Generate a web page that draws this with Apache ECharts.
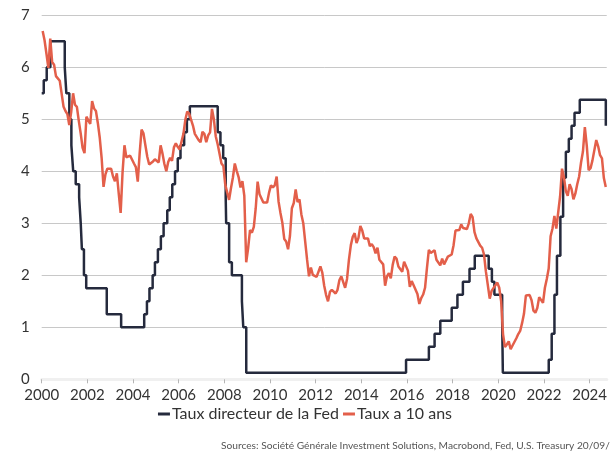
<!DOCTYPE html>
<html>
<head>
<meta charset="utf-8">
<script src="https://cdn.jsdelivr.net/npm/echarts@6/dist/echarts.min.js"></script>
<style>html,body{margin:0;padding:0;background:#fff}#c{width:610px;height:454px}</style>
</head>
<body>
<div id="c"></div>
<script>
// Fed policy rate (target / mid-range), change dates as decimal years
const fedDates = [2000.0,2000.09,2000.22,2000.38,2001.01,2001.08,2001.21,2001.30,2001.38,2001.49,2001.64,2001.71,2001.76,2001.85,2001.95,2002.85,2003.48,
  2004.49,2004.61,2004.72,2004.86,2004.96,2005.09,2005.22,2005.34,2005.50,2005.61,2005.72,2005.84,2005.96,2006.08,2006.24,2006.36,2006.49,
  2007.71,2007.83,2007.95,2008.06,2008.08,2008.21,2008.33,2008.77,2008.83,2008.96,
  2015.96,2016.96,2017.21,2017.46,2017.96,2018.21,2018.45,2018.74,2018.97,2019.58,2019.72,2019.83,2020.17,2020.20,
  2022.21,2022.34,2022.46,2022.57,2022.72,2022.84,2022.96,2023.09,2023.21,2023.34,2023.57,2024.71,2024.72];
const fedRates = [5.5,5.75,6.0,6.5,6.0,5.5,5.0,4.5,4.0,3.75,3.5,3.0,2.5,2.0,1.75,1.25,1.0,
  1.25,1.5,1.75,2.0,2.25,2.5,2.75,3.0,3.25,3.5,3.75,4.0,4.25,4.5,4.75,5.0,5.25,
  4.75,4.5,4.25,3.5,3.0,2.25,2.0,1.5,1.0,0.125,
  0.375,0.625,0.875,1.125,1.375,1.625,1.875,2.125,2.375,2.125,1.875,1.625,1.125,0.125,
  0.375,0.875,1.625,2.375,3.125,3.875,4.375,4.625,4.875,5.125,5.375,4.875,4.875];

// 10-year Treasury yield, monthly, from Jan of the first year
const ty2000s = [6.70,6.52,6.26,5.99,6.55,6.10,6.05,5.83,5.80,5.74,5.72,5.24,
  5.16,5.10,4.89,5.14,5.50,5.28,5.24,4.97,4.73,4.45,4.35,5.05,
  5.04,4.91,5.35,5.21,5.16,4.93,4.65,4.26,3.70,3.94,4.05,4.03,
  4.05,3.90,3.81,3.96,3.57,3.20,3.98,4.50,4.27,4.29,4.30,4.27,
  4.15,4.08,3.80,4.35,4.80,4.73,4.50,4.28,4.13,4.10,4.19,4.23];
const ty2005s = [4.22,4.17,4.50,4.34,4.14,4.00,4.18,4.26,4.20,4.46,4.54,4.47,
  4.42,4.57,4.72,4.99,5.15,5.11,5.09,4.88,4.72,4.73,4.60,4.56,
  4.76,4.72,4.56,4.69,4.75,5.20,5.00,4.67,4.52,4.53,4.15,4.10,
  3.74,3.74,3.45,3.68,3.88,4.15,4.01,3.89,3.69,3.81,3.53,2.25,
  2.52,2.87,2.82,2.93,3.29,3.80,3.56,3.59,3.40,3.39,3.40,3.59];
const ty2010s = [3.73,3.69,3.73,3.90,3.42,3.20,3.01,2.70,2.65,2.50,2.76,3.29,
  3.39,3.65,3.41,3.46,3.17,3.00,3.00,2.30,1.98,2.15,2.01,1.98,
  1.97,1.97,2.17,2.05,1.80,1.62,1.50,1.68,1.72,1.75,1.65,1.72,
  1.91,1.98,1.96,1.76,1.93,2.30,2.58,2.74,2.81,2.62,2.72,2.95,
  2.86,2.71,2.72,2.71,2.56,2.60,2.54,2.42,2.53,2.30,2.33,2.21];
const ty2015s = [1.80,1.98,2.04,1.94,2.20,2.36,2.32,2.17,2.17,2.07,2.26,2.24,
  2.09,1.78,1.89,1.81,1.81,1.64,1.45,1.56,1.63,1.76,2.14,2.49,
  2.43,2.42,2.48,2.30,2.30,2.19,2.32,2.21,2.20,2.36,2.35,2.40,
  2.58,2.86,2.84,2.87,2.98,2.91,2.89,2.89,3.00,3.18,3.12,2.83,
  2.71,2.68,2.57,2.53,2.40,2.07,2.06,1.55,1.70,1.71,1.81,1.86];
const ty2020s = [1.76,1.50,0.87,0.62,0.67,0.73,0.58,0.65,0.68,0.79,0.87,0.93,
  1.08,1.26,1.61,1.64,1.62,1.52,1.32,1.28,1.37,1.58,1.56,1.47,
  1.76,1.93,2.13,2.75,2.90,3.14,2.90,2.90,3.52,4.05,3.89,3.62,
  3.53,3.75,3.66,3.46,3.57,3.75,3.90,4.17,4.38,4.85,4.50,4.02,
  4.06,4.21,4.21,4.60,4.48,4.31,4.25,3.87,3.70];

const tickYears = [2000,2002,2004,2006,2008,2010,2012,2014,2016,2018,2020,2022,2024];
const seriesNames = ['Taux directeur de la Fed','Taux a 10 ans'];
const sourceText = 'Sources: Société Générale Investment Solutions, Macrobond, Fed, U.S. Treasury 20/09/2024';

const tyAll = [].concat(ty2000s, ty2005s, ty2010s, ty2015s, ty2020s);
const tyData = tyAll.map((v,i)=>[2000 + (i+0.5)/12, v]);
const fedData = fedDates.map((d,i)=>[d, fedRates[i]]);

const FONT = 'Lato';
const chart = echarts.init(document.getElementById('c'), null, {renderer:'canvas'});
chart.setOption({
  animation:false,
  backgroundColor:'#ffffff',
  grid:{left:41.7, right:1.5, top:15.3, bottom:74.7, containLabel:false},
  xAxis:{
    type:'value', min:2000, max:2024.75,
    axisLine:{show:true, lineStyle:{color:'#f0f0f0', width:3}},
    axisTick:{show:true, customValues:tickYears, length:4, lineStyle:{color:'#b5b5b5'}},
    axisLabel:{customValues:tickYears, formatter:v=>String(Math.round(v)), color:'#333', fontFamily:FONT, fontSize:15, margin:8},
    splitLine:{show:false}
  },
  yAxis:{
    type:'value', min:0, max:7, interval:1,
    axisLine:{show:false}, axisTick:{show:false},
    axisLabel:{color:'#333', fontFamily:FONT, fontSize:15, margin:12},
    splitLine:{show:true, lineStyle:{color:'#c8c8c8', width:1}}
  },
  legend:{
    top:401, left:'center', itemGap:4, itemWidth:12, itemHeight:3, icon:'rect',
    textStyle:{color:'#333', fontFamily:FONT, fontSize:16, padding:[0,0,0,-3]},
    data:seriesNames
  },
  graphic:[{type:'text', left:221, top:441, style:{text:sourceText, fill:'#555', font:'10.2px '+FONT}}],
  series:[
    {name:seriesNames[0], type:'line', step:'end', data:fedData, showSymbol:false, color:'#252a3d',
      lineStyle:{color:'#252a3d', width:2.5}},
    {name:seriesNames[1], type:'line', data:tyData, showSymbol:false, color:'#e35f4a',
      lineStyle:{color:'#e35f4a', width:2.5}}
  ]
});
</script>
</body>
</html>
